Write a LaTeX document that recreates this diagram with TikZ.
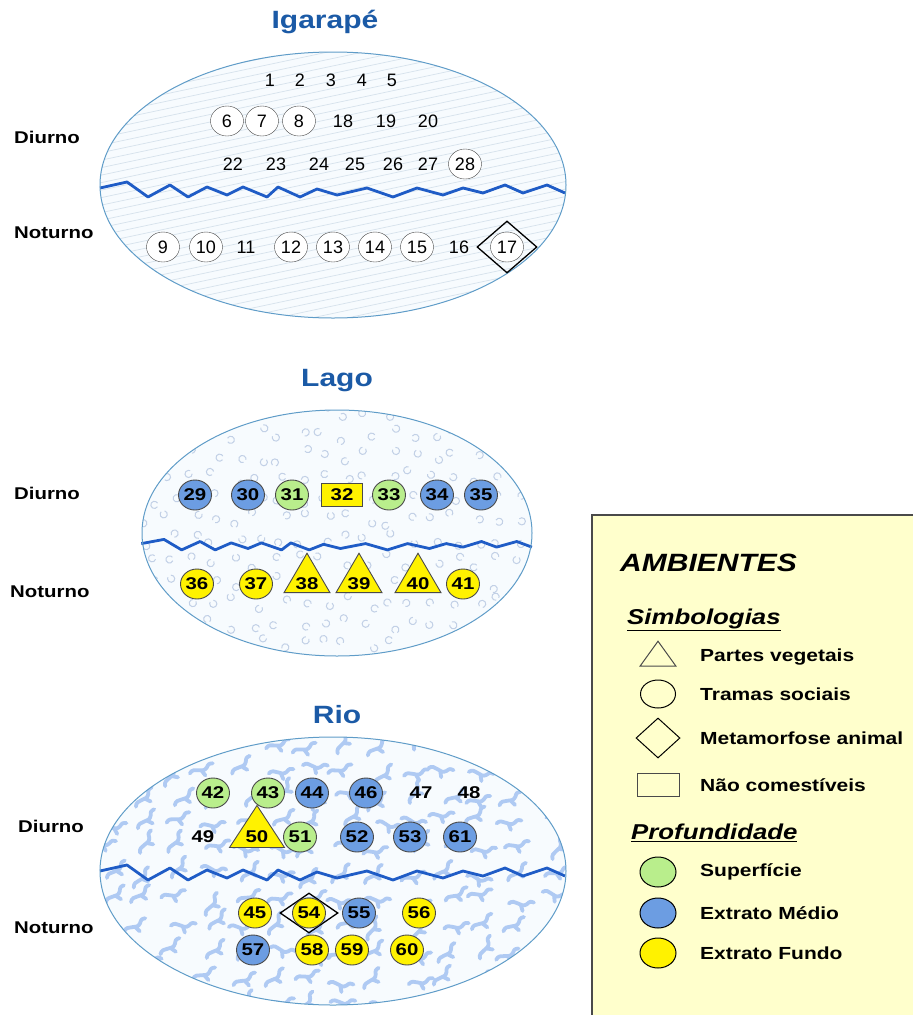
\documentclass[tikz,border=0pt]{standalone}
\usepackage{fontspec}
\setsansfont{Liberation Sans}
\newfontfamily\widesf{Liberation Sans}[FakeStretch=1.2]
\usepackage{tikz}
\usetikzlibrary{shapes.geometric}
\definecolor{TitleBlue}{HTML}{1B5AA6}
\definecolor{WaveBlue}{HTML}{1F5CC6}
\definecolor{RimBlue}{HTML}{5F9CC8}
\definecolor{WaterTint}{HTML}{F7FBFE}
\definecolor{HatchGray}{HTML}{D6E2EC}
\definecolor{BubbleBlue}{HTML}{C2D0E6}
\definecolor{SquigBlue}{HTML}{AFCAF3}
\definecolor{SupGreen}{HTML}{B9EE8C}
\definecolor{MedBlue}{HTML}{6C9DE2}
\definecolor{FundYellow}{HTML}{FFF200}
\definecolor{LegendBg}{HTML}{FFFFCC}
\definecolor{RingGray}{HTML}{4A4A4A}

\tikzset{
  lbltitle/.style={font=\widesf\bfseries\fontsize{25}{28}\selectfont, text=TitleBlue, inner sep=0pt},
  lblside/.style={font=\widesf\bfseries\fontsize{17}{20}\selectfont, anchor=west, inner sep=0pt},
  numplain/.style={font=\sffamily\fontsize{18}{20}\selectfont, inner sep=0pt},
  numring/.style={numplain, ellipse, draw=RingGray, fill=white, minimum width=33, minimum height=30},
  numbold/.style={font=\widesf\bfseries\fontsize{17}{20}\selectfont, inner sep=0pt},
  numdot/.style={numbold, ellipse, draw=RingGray, line width=0.9, minimum width=33, minimum height=30},
  numsup/.style={numdot, fill=SupGreen},
  nummed/.style={numdot, fill=MedBlue},
  numfun/.style={numdot, fill=FundYellow},
  numbox/.style={numbold, draw=RingGray, line width=0.9, fill=FundYellow, minimum width=41, minimum height=23},
  numtri/.style={numbold, isosceles triangle, isosceles triangle stretches, shape border rotate=90,
    draw=RingGray, line width=0.9, fill=FundYellow, minimum width=46, minimum height=35},
  numbigtri/.style={numtri, minimum width=55, minimum height=42},
  metadia/.style={diamond, draw=black, line width=1.3, inner sep=0pt},
  rimline/.style={draw=RimBlue, line width=1},
  waveline/.style={draw=WaveBlue, line width=2.8, line join=round},
  hatchline/.style={draw=HatchGray, line width=0.7},
  bubbleline/.style={draw=BubbleBlue, line width=1},
  squigline/.style={draw=SquigBlue, line width=3.8, line cap=round, line join=round},
  legframe/.style={draw=RingGray, line width=1.5, fill=LegendBg},
  leghead/.style={font=\widesf\bfseries\itshape\fontsize{25}{28}\selectfont, anchor=west, inner sep=0pt},
  legsub/.style={font=\widesf\bfseries\itshape\fontsize{21.5}{24}\selectfont, anchor=west, inner sep=0pt},
  legitem/.style={font=\widesf\bfseries\fontsize{17.5}{20}\selectfont, anchor=west, inner sep=0pt},
  legsym/.style={draw=black, line width=1, inner sep=0pt},
  wave/.pic={
    \draw[waveline] plot coordinates {(-233,-2) (-206,-8) (-185,7) (-163,-5) (-145,7) (-126,-3)
      (-106,5) (-90,-3) (-66,7) (-55,-3) (-33,7) (-16,-1) (4,5) (34,-2) (60,7) (84,-2)
      (110,5) (130,-2) (150,3) (172,-5) (190,3) (214,-5) (232,3)};
  }
}

\begin{document}
\begin{tikzpicture}[x=1pt,y=-1pt]
  \useasboundingbox (0,0) rectangle (913,1015);

  % Igarape
  \node[lbltitle] (tIg) at (325,22) {Igarapé};
  \fill[WaterTint] (333,185) ellipse [x radius=233, y radius=133];
  \begin{scope}
    \clip (333,185) ellipse [x radius=233, y radius=133];
    \foreach \k in {0,...,56}
      \draw[hatchline] (90,80+\k*7.5) -- ++(490,-104);
  \end{scope}
  \pic at (333,190) {wave};
  \draw[rimline] (333,185) ellipse [x radius=233, y radius=133];
  \node[lblside] (igD) at (14,137) {Diurno};
  \node[lblside] (igN) at (14,233) {Noturno};
  \foreach \n/\x in {1/270,2/300,3/331,4/362,5/392}
    \node[numplain] (i\n) at (\x,80) {\n};
  \foreach \n/\x/\s in {6/227/numring,7/262/numring,8/299/numring,18/343/numplain,19/386/numplain,20/428/numplain}
    \node[\s] (i\n) at (\x,121) {\n};
  \foreach \n/\x/\s in {22/233/numplain,23/276/numplain,24/319/numplain,25/355/numplain,26/393/numplain,27/428/numplain,28/465/numring}
    \node[\s] (i\n) at (\x,164) {\n};
  \node[metadia, minimum width=60, minimum height=52] (d17) at (507,247) {};
  \foreach \n/\x/\s in {9/163/numring,10/206/numring,11/246/numplain,12/291/numring,13/333/numring,14/375/numring,15/417/numring,16/459/numplain,17/507/numring}
    \node[\s] (i\n) at (\x,247) {\n};

  % Lago
  \node[lbltitle] (tLa) at (337,381) {Lago};
  \fill[WaterTint] (337,533) ellipse [x radius=195, y radius=123];
  \begin{scope}
    \clip (337,533) ellipse [x radius=195, y radius=123];
    \pgfmathsetseed{12}
    \foreach \i in {0,...,17}
      \foreach \j in {0,...,11} {
        \pgfmathsetmacro\bx{148+\i*22+rand*7}
        \pgfmathsetmacro\by{414+\j*21+rand*7}
        \pgfmathsetmacro\ba{rand*180}
        \draw[bubbleline] (\bx,\by) ++(\ba:3.6) arc [start angle=\ba, delta angle=300, radius=3.6];
      }
  \end{scope}
  \pic[xscale=0.84, yscale=0.7] at (337,545) {wave};
  \draw[rimline] (337,533) ellipse [x radius=195, y radius=123];
  \node[lblside] (laD) at (14,493) {Diurno};
  \node[lblside] (laN) at (10,592) {Noturno};
  \foreach \n/\x/\s in {29/195/nummed,30/248/nummed,31/292/numsup,32/342/numbox,33/389/numsup,34/437/nummed,35/481/nummed}
    \node[\s] (l\n) at (\x,495) {\n};
  \foreach \n/\x/\s in {36/197/numfun,37/256/numfun,38/307/numtri,39/359/numtri,40/418/numtri,41/463/numfun}
    \node[\s] (l\n) at (\x,584) {\n};

  % Rio
  \node[lbltitle] (tRi) at (337,715) {Rio};
  \fill[WaterTint] (333,871) ellipse [x radius=233, y radius=134];
  \begin{scope}
    \clip (333,871) ellipse [x radius=233, y radius=134];
    \pgfmathsetseed{5}
    \foreach \i in {0,...,13}
      \foreach \j in {0,...,10} {
        \pgfmathsetmacro\sx{108+\i*34+rand*9}
        \pgfmathsetmacro\sy{744+\j*26+rand*7}
        \pgfmathsetmacro\sa{25+rand*40}
        \draw[squigline, shift={(\sx,\sy)}, rotate=\sa]
          (-12,0) .. controls (-6,-6) and (0,5) .. (6,0) .. controls (9,-3) .. (13,-2)
          (0,1) -- (2,7);
      }
  \end{scope}
  \pic at (333,873) {wave};
  \draw[rimline] (333,871) ellipse [x radius=233, y radius=134];
  \node[lblside] (riD) at (18,826) {Diurno};
  \node[lblside] (riN) at (14,928) {Noturno};
  \foreach \n/\x/\s in {49/203/numbold,50/257/numbigtri,51/300/numsup,52/357/nummed,53/410/nummed,61/460/nummed}
    \node[\s] (r\n) at (\x,837) {\n};
  \foreach \n/\x/\s in {42/213/numsup,43/268/numsup,44/312/nummed,46/366/nummed,47/421/numbold,48/469/numbold}
    \node[\s] (r\n) at (\x,793) {\n};
  \node[metadia, minimum width=58, minimum height=40] (d54) at (309,913) {};
  \foreach \n/\x/\s in {45/255/numfun,54/309/numfun,55/359/nummed,56/419/numfun}
    \node[\s] (r\n) at (\x,913) {\n};
  \foreach \n/\x/\s in {57/253/nummed,58/312/numfun,59/352/numfun,60/407/numfun}
    \node[\s] (r\n) at (\x,950) {\n};

  % legenda
  \draw[legframe] (592,515) rectangle (930,1030);
  \node[leghead] (amb) at (620,563) {AMBIENTES};
  \node[legsub] (simb) at (627,620) {\underline{Simbologias}};
  \node[legsym, draw=RingGray, isosceles triangle, isosceles triangle stretches, shape border rotate=90,
    minimum width=36, minimum height=25] (sTri) at (658,657) {};
  \node[legitem] at (700,657) {Partes vegetais};
  \node[legsym, ellipse, minimum width=35, minimum height=28] (sCirc) at (658,694) {};
  \node[legitem] at (700,694) {Tramas sociais};
  \node[legsym, diamond, minimum width=44, minimum height=40] (sDia) at (658,738) {};
  \node[legitem] at (700,738) {Metamorfose animal};
  \node[legsym, draw=RingGray, minimum width=42, minimum height=23] (sRect) at (658,785) {};
  \node[legitem] at (700,785) {Não comestíveis};
  \node[legsub] (prof) at (631,833) {\underline{Profundidade}};
  \foreach \c/\y/\t in {SupGreen/872/Superfície,MedBlue/913/Extrato Médio,FundYellow/953/Extrato Fundo} {
    \node[legsym, ellipse, fill=\c, minimum width=36, minimum height=30] at (658,\y) {};
    \node[legitem] at (700,\y) {\t};
  }
\end{tikzpicture}
\end{document}
